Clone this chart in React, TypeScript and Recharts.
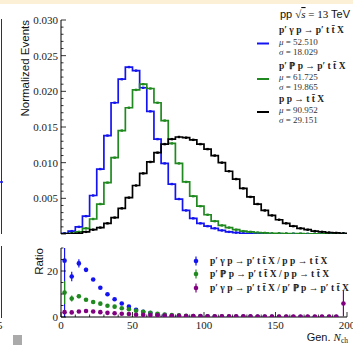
import React from "react";
import { ComposedChart, Line, Scatter, XAxis, YAxis, ErrorBar } from "recharts";

// lower edges of the 5-wide N_ch bins
const BIN_LOW = [
  0, 5, 10, 15, 20, 25, 30, 35, 40, 45, 50, 55, 60, 65, 70, 75, 80, 85, 90, 95,
  100, 105, 110, 115, 120, 125, 130, 135, 140, 145, 150, 155, 160, 165, 170, 175, 180, 185, 190, 195,
];
const BIN_WIDTH = 5;

// normalized events per bin
const PHOTON_HIST = [
  0.0001, 0.0004, 0.001, 0.0025, 0.0054, 0.0091, 0.0138, 0.0184, 0.0217, 0.0234,
  0.0229, 0.0205, 0.0172, 0.0133, 0.0099, 0.007, 0.0049, 0.0033, 0.0022, 0.0015,
  0.0011, 0.0008, 0.0005, 0.0003, 0.0002, 0.0001, 0.0001, 0.00005, 0.00005, 0.00003,
  0.00002, 0.00002, 0.00001, 0.00001, 0, 0, 0, 0, 0, 0,
];
const POMERON_HIST = [
  0.00003, 0.0001, 0.0003, 0.0008, 0.0021, 0.0042, 0.0072, 0.0107, 0.0145, 0.0177,
  0.0202, 0.021, 0.0204, 0.0184, 0.0159, 0.0127, 0.0099, 0.0073, 0.0053, 0.0039,
  0.0027, 0.0018, 0.0012, 0.0009, 0.0006, 0.0004, 0.0003, 0.0002, 0.00015, 0.0001,
  0.0001, 0.00007, 0.00005, 0.00004, 0.00003, 0.00002, 0.00002, 0.00001, 0.00001, 0.00001,
];
const INCL_HIST = [
  0.00002, 0.00005, 0.0001, 0.0003, 0.0006, 0.0009, 0.0015, 0.0023, 0.0036, 0.0051,
  0.0068, 0.0085, 0.0101, 0.0114, 0.0126, 0.0133, 0.0136, 0.0135, 0.0132, 0.0126,
  0.0119, 0.011, 0.01, 0.0088, 0.0077, 0.0064, 0.0052, 0.0042, 0.0033, 0.0026,
  0.002, 0.0015, 0.0011, 0.0008, 0.0006, 0.0004, 0.0003, 0.0002, 0.00015, 0.0001,
];

// ratios at bin centres
const RATIO_PHOTON_INCL = [
  24.5, 17.6, 23.3, 20.5, 16.3, 12.7, 9.9, 7.7, 5.9, 4.5, 3.1, 2.3, 1.7, 1.2, 0.8, 0.55, 0.4, 0.3, 0.25, 0.2,
  0.15, 0.12, 0.1, 0.08, 0.07, 0.06, 0.05, 0.05, 0.04, 0.04, 0.03, 0.03, 0.03, 0.02, 0.02, 0.02, 0.02, 0.01, 0.01,
];
const RATIO_PHOTON_INCL_ERR: (number | number[])[] = [
  [24.5, 5.5], 2.1, 1.8, 0.9, 0.6, 0.5, 0.4, 0.3, 0.25, 0.2, 0.15,
];
const RATIO_POMERON_INCL = [
  10.6, 8.0, 9.0, 7.5, 6.5, 5.8, 4.9, 4.5, 3.8, 3.4, 2.7, 2.3, 1.8, 1.4, 1.1, 0.85, 0.7, 0.55, 0.42, 0.33,
  0.25, 0.2, 0.15, 0.12, 0.1, 0.08, 0.07, 0.06, 0.05, 0.05, 0.04, 0.04, 0.03, 0.03, 0.03, 0.02, 0.02, 0.02, 0.02,
];
const RATIO_POMERON_INCL_ERR: (number | number[])[] = [
  5.0, 1.3, 0.8, 0.6, 0.4, 0.3, 0.25, 0.2, 0.15,
];
const RATIO_PHOTON_POMERON = [
  2.1, 2.0, 2.4, 2.6, 2.4, 2.1, 1.8, 1.6, 1.4, 1.3, 1.0, 0.95, 0.85, 0.75, 0.65, 0.55, 0.5, 0.45, 0.4, 0.38,
  0.35, 0.33, 0.3, 0.3, 0.28, 0.27, 0.26, 0.25, 0.25, 0.24, 0.24, 0.23, 0.23, 0.22, 0.22, 0.22, 0.21, 0.21, 0.21, 5.9,
];
const RATIO_PHOTON_POMERON_ERR: (number | number[])[] = [
  0.5, 0.4, 0.3, 0.3, 0.25, 0.2, 0.15, 0.15, 0.1,
];
const RATIO_PHOTON_POMERON_LAST_ERR = 5.6;

const X_TICKS = [0, 10, 20, 30, 40, 50, 60, 70, 80, 90, 100, 110, 120, 130, 140, 150, 160, 170, 180, 190, 200];
const X_MAJOR = [0, 50, 100, 150, 200];
const TOP_Y_MAJOR = [0, 0.005, 0.01, 0.015, 0.02, 0.025, 0.03];
const TOP_Y_LABELS = [0.005, 0.01, 0.015, 0.02, 0.025, 0.03];
const RATIO_Y_TICKS = [0, 5, 10, 15, 20, 25, 30];
const RATIO_Y_MAJOR = [0, 20];

const BLUE = "#1414f0";
const GREEN = "#208a20";
const BLACK = "#000000";
const PURPLE = "#800080";

const SERIF = "'Liberation Serif', 'DejaVu Serif', serif";
const SANS = "'Liberation Sans', Arial, sans-serif";

const topYTicks: number[] = [];
for (let i = 0; i <= 30; i++) topYTicks.push(+(i * 0.001).toFixed(3));

const histRows: any[] = [];
BIN_LOW.forEach((lo, i) => {
  const row = { blue: PHOTON_HIST[i], green: POMERON_HIST[i], black: INCL_HIST[i] };
  histRows.push({ x: lo, ...row });
  histRows.push({ x: lo + BIN_WIDTH / 2, mid: true, ...row });
});
histRows.push({
  x: BIN_LOW[BIN_LOW.length - 1] + BIN_WIDTH,
  blue: PHOTON_HIST[PHOTON_HIST.length - 1],
  green: POMERON_HIST[POMERON_HIST.length - 1],
  black: INCL_HIST[INCL_HIST.length - 1],
});

const ratioRows = (vals: number[], errs: (number | number[])[], lastErr?: number) =>
  vals.map((y, i) => ({
    x: BIN_LOW[i] + BIN_WIDTH / 2,
    y,
    err: i < errs.length ? errs[i] : i === vals.length - 1 && lastErr ? lastErr : 0.05,
  }));

const photonInclRows = ratioRows(RATIO_PHOTON_INCL, RATIO_PHOTON_INCL_ERR);
const pomeronInclRows = ratioRows(RATIO_POMERON_INCL, RATIO_POMERON_INCL_ERR);
const photonPomeronRows = ratioRows(RATIO_PHOTON_POMERON, RATIO_PHOTON_POMERON_ERR, RATIO_PHOTON_POMERON_LAST_ERR);

const near = (v: number, list: number[]) => list.some((a) => Math.abs(a - v) < 1e-9);

// inward ticks, drawn from the axis line position (tickSize and tickMargin are 0)
const makeTick =
  (side: "left" | "right" | "top" | "bottom", majors: number[], labels: number[], fmt: (v: number) => string) =>
  (p: any) => {
    const v = p.payload.value;
    const len = near(v, majors) ? 5 : 2.5;
    const { x, y } = p;
    let line;
    if (side === "left") line = <line x1={x} x2={x + len} y1={y} y2={y} stroke="#000" strokeWidth={0.8} />;
    else if (side === "right") line = <line x1={x} x2={x - len} y1={y} y2={y} stroke="#000" strokeWidth={0.8} />;
    else if (side === "top") line = <line x1={x} x2={x} y1={y} y2={y + len} stroke="#000" strokeWidth={0.8} />;
    else line = <line x1={x} x2={x} y1={y} y2={y - len} stroke="#000" strokeWidth={0.8} />;
    const showLabel = near(v, labels);
    return (
      <g>
        {line}
        {showLabel && side === "left" && (
          <text x={x - 3} y={y} dy="0.35em" textAnchor="end" fontFamily={SERIF} fontSize={11} fill="#222">
            {fmt(v)}
          </text>
        )}
        {showLabel && side === "bottom" && (
          <text x={x} y={y + 12} textAnchor="middle" fontFamily={SERIF} fontSize={11} fill="#222">
            {fmt(v)}
          </text>
        )}
      </g>
    );
  };

const histDot = (color: string) => (p: any) =>
  p.payload && p.payload.mid ? (
    <rect key={p.key} x={p.cx - 1.2} y={p.cy - 1.2} width={2.4} height={2.4} fill={color} />
  ) : (
    <g key={p.key} />
  );

const ratioDot = (color: string) => (p: any) => <circle cx={p.cx} cy={p.cy} r={2.3} fill={color} />;

const axisLine = { stroke: "#000", strokeWidth: 1 };

function HistPanel() {
  return (
    <ComposedChart width={353} height={240} data={histRows} margin={{ top: 20, right: 6, bottom: 6, left: 0 }}>
      <XAxis
        xAxisId="b"
        dataKey="x"
        type="number"
        domain={[0, 200]}
        allowDataOverflow
        ticks={X_TICKS}
        interval={0}
        height={0}
        tickSize={0}
        tickMargin={0}
        tickLine={false}
        axisLine={axisLine}
        tick={makeTick("bottom", X_MAJOR, [], String)}
      />
      <XAxis
        xAxisId="t"
        orientation="top"
        dataKey="x"
        type="number"
        domain={[0, 200]}
        allowDataOverflow
        ticks={X_TICKS}
        interval={0}
        height={0}
        tickSize={0}
        tickMargin={0}
        tickLine={false}
        axisLine={axisLine}
        tick={makeTick("top", X_MAJOR, [], String)}
      />
      <YAxis
        yAxisId="l"
        type="number"
        domain={[0, 0.03]}
        allowDataOverflow
        ticks={topYTicks}
        interval={0}
        width={61}
        tickSize={0}
        tickMargin={0}
        tickLine={false}
        axisLine={axisLine}
        tick={makeTick("left", TOP_Y_MAJOR, TOP_Y_LABELS, (v) => v.toFixed(3))}
      />
      <YAxis
        yAxisId="r"
        orientation="right"
        type="number"
        domain={[0, 0.03]}
        allowDataOverflow
        ticks={topYTicks}
        interval={0}
        width={0}
        tickSize={0}
        tickMargin={0}
        tickLine={false}
        axisLine={axisLine}
        tick={makeTick("right", TOP_Y_MAJOR, [], String)}
      />
      <Line xAxisId="b" yAxisId="l" type="stepAfter" dataKey="blue" stroke={BLUE} strokeWidth={1.7} dot={histDot(BLUE)} activeDot={false} isAnimationActive={false} />
      <Line xAxisId="b" yAxisId="l" type="stepAfter" dataKey="green" stroke={GREEN} strokeWidth={1.7} dot={histDot(GREEN)} activeDot={false} isAnimationActive={false} />
      <Line xAxisId="b" yAxisId="l" type="stepAfter" dataKey="black" stroke={BLACK} strokeWidth={1.7} dot={histDot(BLACK)} activeDot={false} isAnimationActive={false} />
    </ComposedChart>
  );
}

function RatioPanel() {
  return (
    <ComposedChart width={353} height={105} margin={{ top: 8, right: 6, bottom: 0, left: 0 }}>
      <XAxis
        xAxisId="b"
        dataKey="x"
        type="number"
        domain={[0, 200]}
        allowDataOverflow
        ticks={X_TICKS}
        interval={0}
        height={28}
        tickSize={0}
        tickMargin={0}
        tickLine={false}
        axisLine={axisLine}
        tick={makeTick("bottom", X_MAJOR, X_MAJOR, String)}
      />
      <XAxis
        xAxisId="t"
        orientation="top"
        dataKey="x"
        type="number"
        domain={[0, 200]}
        allowDataOverflow
        ticks={X_TICKS}
        interval={0}
        height={0}
        tickSize={0}
        tickMargin={0}
        tickLine={false}
        axisLine={axisLine}
        tick={makeTick("top", X_MAJOR, [], String)}
      />
      <YAxis
        yAxisId="l"
        type="number"
        domain={[0, 30]}
        allowDataOverflow
        ticks={RATIO_Y_TICKS}
        interval={0}
        width={61}
        tickSize={0}
        tickMargin={0}
        tickLine={false}
        axisLine={axisLine}
        tick={makeTick("left", RATIO_Y_MAJOR, RATIO_Y_MAJOR, String)}
      />
      <YAxis
        yAxisId="r"
        orientation="right"
        type="number"
        domain={[0, 30]}
        allowDataOverflow
        ticks={RATIO_Y_TICKS}
        interval={0}
        width={0}
        tickSize={0}
        tickMargin={0}
        tickLine={false}
        axisLine={axisLine}
        tick={makeTick("right", RATIO_Y_MAJOR, [], String)}
      />
      <Scatter xAxisId="b" yAxisId="l" data={photonInclRows} dataKey="y" shape={ratioDot(BLUE)} isAnimationActive={false}>
        <ErrorBar dataKey="err" direction="y" width={0} stroke={BLUE} strokeWidth={1.2} />
      </Scatter>
      <Scatter xAxisId="b" yAxisId="l" data={pomeronInclRows} dataKey="y" shape={ratioDot(GREEN)} isAnimationActive={false}>
        <ErrorBar dataKey="err" direction="y" width={0} stroke={GREEN} strokeWidth={1.2} />
      </Scatter>
      <Scatter xAxisId="b" yAxisId="l" data={photonPomeronRows} dataKey="y" shape={ratioDot(PURPLE)} isAnimationActive={false}>
        <ErrorBar dataKey="err" direction="y" width={0} stroke={PURPLE} strokeWidth={1.2} />
      </Scatter>
    </ComposedChart>
  );
}

const TOP_LEGEND = [
  { color: BLUE, title: "p′ γ p → p′ t t̄ X", mu: "52.510", sigma: "18.029", y: 33 },
  { color: GREEN, title: "p′ ℙ p → p′ t t̄ X", mu: "61.725", sigma: "19.865", y: 68.5 },
  { color: BLACK, title: "p p → t t̄ X", mu: "90.952", sigma: "29.151", y: 101.5 },
];

const RATIO_LEGEND = [
  { color: BLUE, text: "p′ γ p → p′ t t̄ X / p p → t t̄ X", y: 261 },
  { color: GREEN, text: "p′ ℙ p → p′ t t̄ X / p p → t t̄ X", y: 274 },
  { color: PURPLE, text: "p′ γ p → p′ t t̄ X / p′ ℙ p → p′ t t̄ X", y: 288 },
];

function Overlay() {
  return (
    <svg width={353} height={345} style={{ position: "absolute", left: 0, top: 0, pointerEvents: "none" }}>
      <text transform="rotate(-90)" x={-20} y={28.5} textAnchor="end" fontFamily={SANS} fontSize={11.5} fill="#111">
        Normalized Events
      </text>
      <text transform="rotate(-90)" x={-248} y={42.5} textAnchor="end" fontFamily={SANS} fontSize={11.5} fill="#111">
        Ratio
      </text>
      <text x={350} y={18} textAnchor="end" fontSize={11} fill="#111">
        <tspan fontFamily={SANS}>pp </tspan>
        <tspan fontFamily={SERIF}>√</tspan>
        <tspan fontFamily={SERIF} fontStyle="italic" textDecoration="overline">s</tspan>
        <tspan fontFamily={SERIF}> = 13 </tspan>
        <tspan fontFamily={SANS}>TeV</tspan>
      </text>
      <text x={348} y={341} textAnchor="end" fontSize={11} fill="#111">
        <tspan fontFamily={SANS}>Gen. </tspan>
        <tspan fontFamily={SERIF} fontStyle="italic">N</tspan>
        <tspan fontFamily={SERIF} fontSize={7.5} dy={1.5}>ch</tspan>
      </text>
      {TOP_LEGEND.map((l) => (
        <g key={l.title}>
          <line x1={257} x2={269} y1={l.y + 10.5} y2={l.y + 10.5} stroke={l.color} strokeWidth={2} />
          <text x={279} y={l.y} fontFamily={SERIF} fontWeight={700} fontSize={9.5} fill="#222">
            {l.title}
          </text>
          <text x={279} y={l.y + 11.5} fontFamily={SERIF} fontSize={9} fill="#333">
            <tspan fontStyle="italic">μ</tspan> = {l.mu}
          </text>
          <text x={279} y={l.y + 21.5} fontFamily={SERIF} fontSize={9} fill="#333">
            <tspan fontStyle="italic">σ</tspan> = {l.sigma}
          </text>
        </g>
      ))}
      {RATIO_LEGEND.map((l) => (
        <g key={l.text}>
          <line x1={196} x2={196} y1={l.y - 4.5} y2={l.y + 4.5} stroke={l.color} strokeWidth={1.2} />
          <circle cx={196} cy={l.y} r={2.3} fill={l.color} />
          <text x={210} y={l.y + 3} fontFamily={SERIF} fontWeight={700} fontSize={9.5} fill="#222">
            {l.text}
          </text>
        </g>
      ))}
      {/* edge of the neighbouring figure */}
      <line x1={1.5} x2={1.5} y1={19} y2={234} stroke="#333" strokeWidth={1} />
      <line x1={0} x2={3} y1={182} y2={182} stroke={BLUE} strokeWidth={1.5} />
      <line x1={1.5} x2={1.5} y1={246} y2={318} stroke="#333" strokeWidth={1} />
      <text x={-3} y={329} fontFamily={SERIF} fontSize={11} fill="#222">5</text>
      <rect x={13} y={335} width={9} height={10} fill="#aaaaaa" />
    </svg>
  );
}

export default function App() {
  return (
    <div style={{ position: "absolute", left: 0, top: 0, width: 353, height: 345, background: "#fff", overflow: "hidden" }}>
      <div style={{ position: "absolute", left: 0, top: 0, width: 353, height: 4, background: "#fcf0d6" }} />
      <div style={{ position: "absolute", left: 0, top: 0 }}>
        <HistPanel />
      </div>
      <div style={{ position: "absolute", left: 0, top: 240 }}>
        <RatioPanel />
      </div>
      <Overlay />
    </div>
  );
}
